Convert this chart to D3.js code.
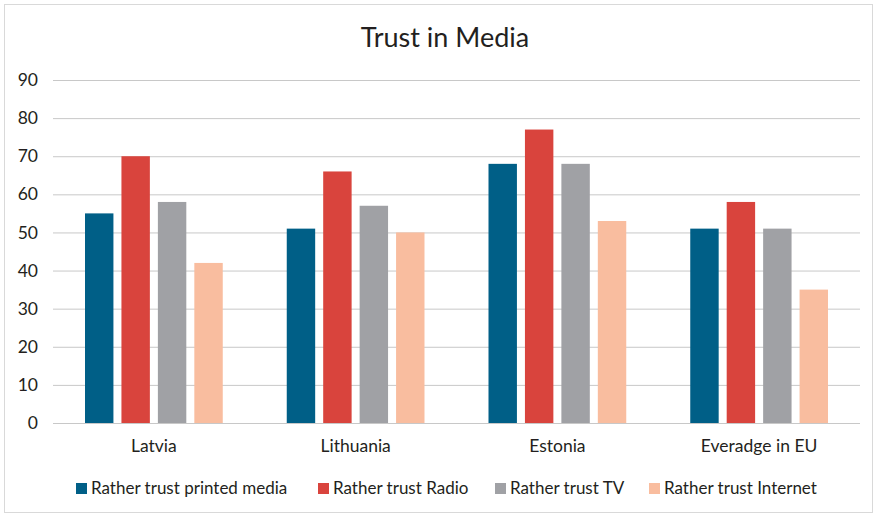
<!DOCTYPE html>
<html>
<head>
<meta charset="utf-8">
<script src="https://cdn.jsdelivr.net/npm/d3@7"></script>
<style>
  body { margin: 0; background: #fff; }
  svg text { font-family: Lato, "Open Sans", sans-serif; fill: #231f20; }
</style>
</head>
<body>
<div id="chart"></div>
<script>
// Data
const categories = ["Latvia", "Lithuania", "Estonia", "Everadge in EU"];
const seriesNames = ["Rather trust printed media", "Rather trust Radio", "Rather trust TV", "Rather trust Internet"];
const printedMedia = [55, 51, 68, 51];
const radio = [70, 66, 77, 58];
const tv = [58, 57, 68, 51];
const internet = [42, 50, 53, 35];
const yTicks = [0, 10, 20, 30, 40, 50, 60, 70, 80, 90];
const colors = ["#005f87", "#d9443d", "#a0a1a5", "#f9bd9f"];

const seriesValues = [printedMedia, radio, tv, internet];
const rows = categories.map((c, i) => ({
    category: c,
    values: seriesNames.map((s, j) => ({ key: s, value: seriesValues[j][i], color: colors[j] }))
}));

const width = 877, height = 517;
const margin = { top: 80, right: 17, bottom: 94, left: 53 };
const chartWidth = width - margin.left - margin.right;
const chartHeight = height - margin.top - margin.bottom;

const svg = d3.select("#chart")
    .append("svg")
    .attr("width", width)
    .attr("height", height);

// Outer frame
svg.append("rect")
    .attr("x", 4.5)
    .attr("y", 4.5)
    .attr("width", width - 9)
    .attr("height", height - 9)
    .attr("fill", "#fff")
    .attr("stroke", "#d9d9d9")
    .attr("stroke-width", 1);

// Title
svg.append("text")
    .attr("x", 445)
    .attr("y", 47)
    .attr("text-anchor", "middle")
    .style("font-size", "27px")
    .text("Trust in Media");

const g = svg.append("g")
    .attr("transform", `translate(${margin.left},${margin.top})`);

// Scales
const x0 = d3.scaleBand()
    .domain(categories)
    .range([0, chartWidth])
    .paddingInner(0)
    .paddingOuter(0);

const x1 = d3.scaleBand()
    .domain(seriesNames)
    .range([32, x0.bandwidth() - 32])
    .paddingInner(0.22)
    .paddingOuter(0);

const y = d3.scaleLinear()
    .domain([0, 90])
    .range([chartHeight, 0]);

// Grid lines
g.append("g")
    .attr("class", "grid")
    .call(d3.axisLeft(y)
        .tickValues(yTicks)
        .tickSize(-chartWidth)
        .tickFormat("")
    )
    .call(s => s.select(".domain").remove())
    .selectAll("line")
    .attr("stroke", "#c8c8c8")
    .attr("stroke-width", 1);

// Y axis labels
g.append("g")
    .call(d3.axisLeft(y).tickValues(yTicks).tickSize(0).tickPadding(15))
    .call(s => s.select(".domain").remove())
    .selectAll("text")
    .style("font-size", "17.5px")
    .style("font-family", "Lato, 'Open Sans', sans-serif")
    .attr("fill", "#231f20");

// Bars
const groups = g.selectAll(".group")
    .data(rows)
    .enter()
    .append("g")
    .attr("class", "group")
    .attr("transform", d => `translate(${x0(d.category)},0)`);

groups.selectAll("rect")
    .data(d => d.values)
    .enter()
    .append("rect")
    .attr("x", d => x1(d.key))
    .attr("y", d => y(d.value))
    .attr("width", x1.bandwidth())
    .attr("height", d => chartHeight - y(d.value))
    .attr("fill", d => d.color);

// X axis labels
g.append("g")
    .attr("transform", `translate(0,${chartHeight})`)
    .call(d3.axisBottom(x0).tickSize(0).tickPadding(17))
    .call(s => s.select(".domain").remove())
    .selectAll("text")
    .style("font-size", "17.5px")
    .style("font-family", "Lato, 'Open Sans', sans-serif")
    .attr("fill", "#231f20");

// Legend
const legendX = [76, 318, 495, 649];
const legend = svg.append("g")
    .attr("transform", "translate(0,488)");

const items = legend.selectAll(".item")
    .data(seriesNames)
    .enter()
    .append("g")
    .attr("class", "item")
    .attr("transform", (d, i) => `translate(${legendX[i]},0)`);

items.append("rect")
    .attr("x", 0)
    .attr("y", -5)
    .attr("width", 11)
    .attr("height", 11)
    .attr("fill", (d, i) => colors[i]);

items.append("text")
    .attr("x", 15)
    .attr("y", 6)
    .style("font-size", "17px")
    .text(d => d);
</script>
</body>
</html>
